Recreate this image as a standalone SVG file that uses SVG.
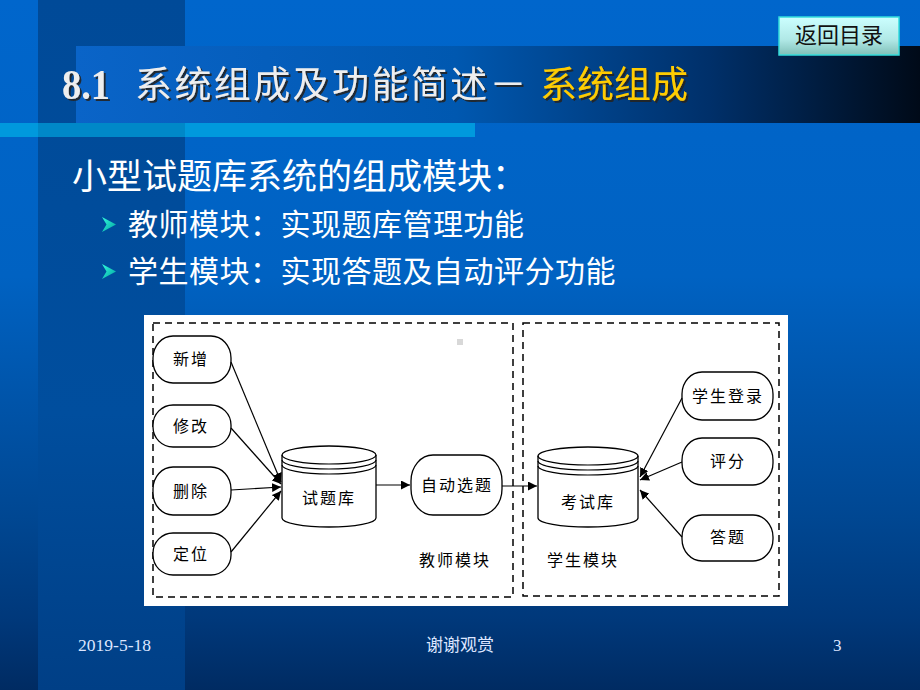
<svg xmlns="http://www.w3.org/2000/svg" width="920" height="690" viewBox="0 0 920 690">
<defs>
<linearGradient id="bg" x1="0" y1="0" x2="0" y2="1">
<stop offset="0" stop-color="#0066cc"/>
<stop offset="0.4" stop-color="#0062c2"/>
<stop offset="0.75" stop-color="#004792"/>
<stop offset="0.9" stop-color="#00387a"/>
<stop offset="1" stop-color="#002b62"/>
</linearGradient>
<linearGradient id="stripe" x1="0" y1="0" x2="0" y2="1">
<stop offset="0" stop-color="#004a98"/>
<stop offset="0.6" stop-color="#004e9e"/>
<stop offset="1" stop-color="#003f86"/>
</linearGradient>
<linearGradient id="band" x1="0" y1="0" x2="1" y2="0">
<stop offset="0" stop-color="#0a64c8"/>
<stop offset="0.45" stop-color="#0058b0"/>
<stop offset="0.75" stop-color="#00306a"/>
<stop offset="1" stop-color="#000a18"/>
</linearGradient>
<linearGradient id="btn" x1="0" y1="0" x2="0" y2="1">
<stop offset="0" stop-color="#ccffff"/>
<stop offset="0.6" stop-color="#b0e8e6"/>
<stop offset="1" stop-color="#80c0b8"/>
</linearGradient>
<linearGradient id="bul" x1="0" y1="0" x2="1" y2="1">
<stop offset="0" stop-color="#33ffdd"/>
<stop offset="1" stop-color="#00a0a0"/>
</linearGradient>
<filter id="sh" x="-5%" y="-20%" width="110%" height="140%">
<feDropShadow dx="2" dy="2" stdDeviation="0.6" flood-color="#222" flood-opacity="0.9"/>
</filter>
<marker id="ah" viewBox="0 0 10 10" refX="10" refY="5" markerWidth="9" markerHeight="9" orient="auto" markerUnits="userSpaceOnUse">
<path d="M0,0 L10,5 L0,10 z" fill="#000"/>
</marker>
<style>
.cn{font-family:"Noto Sans CJK SC","Noto Sans",sans-serif;}
.node{fill:#fff;stroke:#000;stroke-width:1.3;}
.lbl{font-family:"Noto Sans CJK SC",sans-serif;font-size:16px;fill:#000;text-anchor:middle;letter-spacing:2px;}
.dash{fill:none;stroke:#000;stroke-width:1.5;stroke-dasharray:7,5;}
.conn line{stroke:#000;stroke-width:1.2;marker-end:url(#ah);}
.ft{font-family:"Liberation Serif","Noto Sans CJK SC",serif;font-size:17px;fill:#dde6ff;}
</style>
</defs>

<!-- background -->
<rect x="0" y="0" width="920" height="690" fill="url(#bg)"/>
<rect x="38" y="0" width="147" height="690" fill="url(#stripe)"/>
<rect x="76" y="46" width="844" height="77" fill="url(#band)"/>
<rect x="0" y="123" width="475" height="14" fill="#0099dd"/>
<rect x="38" y="123" width="147" height="14" fill="#0088c8"/>

<!-- return button -->
<g id="btn-return">
<rect x="779" y="17" width="120" height="38" fill="url(#btn)" stroke="#33dddd" stroke-width="1.5"/>
<text x="839" y="43" class="cn" font-size="22" text-anchor="middle" fill="#111">返回目录</text>
</g>

<!-- title -->
<g id="title" filter="url(#sh)">
<text x="62" y="99" font-family="Liberation Serif,serif" font-weight="bold" font-size="42" textLength="48" lengthAdjust="spacingAndGlyphs" fill="#eeeeee">8.1</text>
<text x="135" y="98" class="cn" font-size="37" letter-spacing="2.4" fill="#eeeeee">系统组成及功能简述－<tspan x="540" fill="#ffcc00" letter-spacing="0">系统组成</tspan></text>
</g>

<!-- body text -->
<g id="body-text">
<text x="72" y="189" class="cn" font-size="35" fill="#fff">小型试题库系统的组成模块：</text>
<polygon points="102,217 116,224.5 102,232 106.5,224.5" fill="url(#bul)"/>
<text x="128" y="235" class="cn" font-size="30" letter-spacing="0.5" fill="#fff">教师模块：实现题库管理功能</text>
<polygon points="102,264 116,271.5 102,279 106.5,271.5" fill="url(#bul)"/>
<text x="128" y="282" class="cn" font-size="30" letter-spacing="0.5" fill="#fff">学生模块：实现答题及自动评分功能</text>
</g>

<!-- diagram panel -->
<rect x="144" y="315" width="644" height="291" fill="#fff"/>
<rect x="457" y="339" width="6" height="6" fill="#d8d8d8"/>

<g id="teacher-module">
<rect class="dash" x="153" y="323" width="360" height="274"/>
<text x="455" y="566" class="lbl">教师模块</text>
</g>
<g id="student-module">
<rect class="dash" x="523" y="323" width="256" height="273"/>
<text x="583" y="566" class="lbl">学生模块</text>
</g>

<g id="n-xinzeng"><rect class="node" x="153" y="336" width="78" height="47" rx="20" ry="22"/><text x="191" y="365" class="lbl">新增</text></g>
<g id="n-xiugai"><rect class="node" x="153" y="405" width="78" height="42" rx="20" ry="20"/><text x="191" y="432" class="lbl">修改</text></g>
<g id="n-shanchu"><rect class="node" x="153" y="467" width="78" height="48" rx="20" ry="22"/><text x="191" y="497" class="lbl">删除</text></g>
<g id="n-dingwei"><rect class="node" x="153" y="533" width="78" height="42" rx="20" ry="20"/><text x="191" y="560" class="lbl">定位</text></g>

<g id="n-shitiku">
<path class="node" d="M282,455 A47,9 0 0 1 376,455 L376,518 A47,9 0 0 1 282,518 Z"/>
<path fill="none" stroke="#000" stroke-width="1.2" d="M282,455 A47,9 0 0 0 376,455 M282,460 A47,9 0 0 0 376,460 M282,465 A47,9 0 0 0 376,465"/>
<text x="329" y="504" class="lbl">试题库</text>
</g>

<g id="n-zidongxuanti"><rect class="node" x="411" y="455" width="91" height="60" rx="22" ry="26"/><text x="457" y="491" class="lbl">自动选题</text></g>

<g id="n-kaoshiku">
<path class="node" d="M538,456 A50,9 0 0 1 638,456 L638,518 A50,9 0 0 1 538,518 Z"/>
<path fill="none" stroke="#000" stroke-width="1.2" d="M538,456 A50,9 0 0 0 638,456 M538,461 A50,9 0 0 0 638,461 M538,466 A50,9 0 0 0 638,466"/>
<text x="588" y="508" class="lbl">考试库</text>
</g>

<g id="n-xueshengdenglu"><rect class="node" x="682" y="372" width="91" height="48" rx="20" ry="22"/><text x="728" y="402" class="lbl">学生登录</text></g>
<g id="n-pingfen"><rect class="node" x="682" y="438" width="91" height="47" rx="20" ry="22"/><text x="728" y="467" class="lbl">评分</text></g>
<g id="n-dati"><rect class="node" x="682" y="515" width="91" height="46" rx="20" ry="22"/><text x="728" y="543" class="lbl">答题</text></g>

<g id="connectors" class="conn">
<line x1="231" y1="362" x2="281" y2="482"/>
<line x1="231" y1="428" x2="281" y2="484"/>
<line x1="231" y1="490" x2="281" y2="487"/>
<line x1="231" y1="552" x2="281" y2="491"/>
<line x1="376" y1="485" x2="410" y2="485"/>
<line x1="502" y1="486" x2="537" y2="486"/>
<line x1="682" y1="398" x2="640" y2="477"/>
<line x1="682" y1="462" x2="640" y2="480"/>
<line x1="682" y1="537" x2="640" y2="490"/>
</g>

<!-- footer -->
<g id="footer">
<text x="78" y="651" class="ft" textLength="73" lengthAdjust="spacingAndGlyphs">2019-5-18</text>
<text x="460" y="651" class="ft" text-anchor="middle" font-size="16">谢谢观赏</text>
<text x="833" y="651" class="ft">3</text>
</g>
</svg>
